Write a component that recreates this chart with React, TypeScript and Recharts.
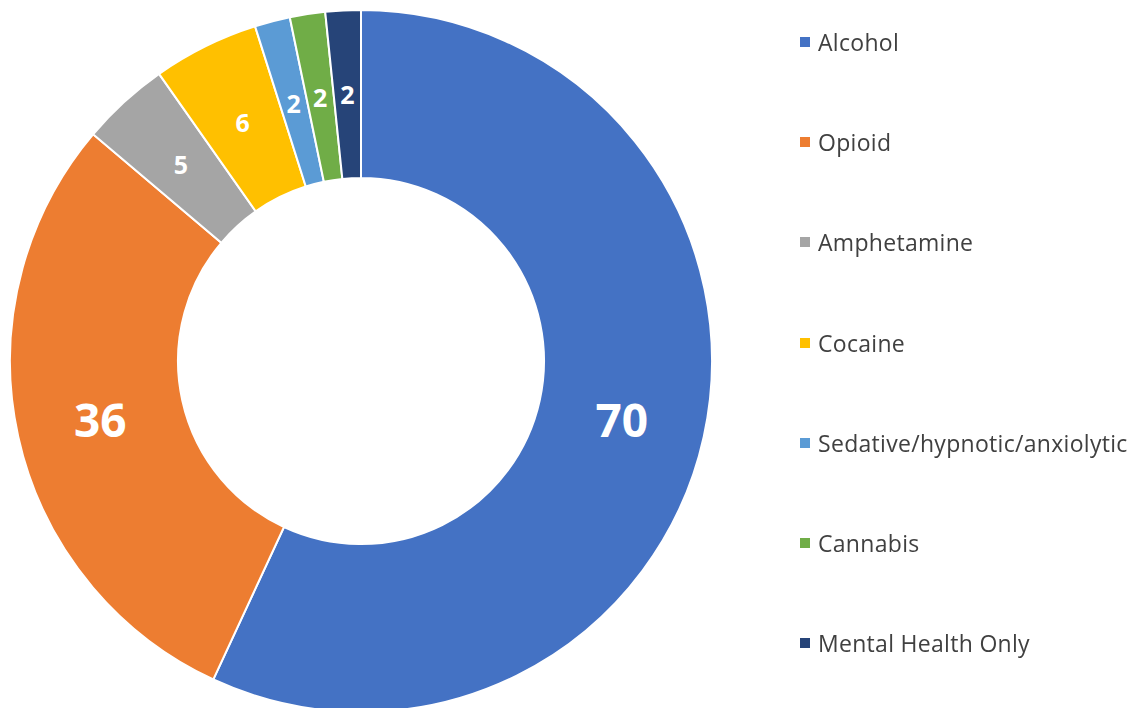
import { PieChart, Pie, Cell, Legend } from "recharts";

const categories = ["Alcohol", "Opioid", "Amphetamine", "Cocaine", "Sedative/hypnotic/anxiolytic", "Cannabis", "Mental Health Only"];
const counts = [70, 36, 5, 6, 2, 2, 2];
const colors = ["#4472C4", "#ED7D31", "#A5A5A5", "#FFC000", "#5B9BD5", "#70AD47", "#264478"];

const data = categories.map((name, i) => ({ name, value: counts[i] }));

const RADIAN = Math.PI / 180;

// label in the middle of the ring, big font for the large slices
const renderLabel = (props: any) => {
  const { cx, cy, midAngle, innerRadius, outerRadius, value } = props;
  const r = (innerRadius + outerRadius) / 2;
  const x = cx + r * Math.cos(-midAngle * RADIAN);
  const y = cy + r * Math.sin(-midAngle * RADIAN);
  return (
    <text
      x={x}
      y={y}
      fill="#fff"
      textAnchor="middle"
      dominantBaseline="central"
      fontSize={value >= 30 ? 46 : 25}
      fontWeight={700}
      fontFamily="'Open Sans', sans-serif"
    >
      {value}
    </text>
  );
};

const renderLegend = () => (
  <div style={{ fontFamily: "'Open Sans', sans-serif", fontSize: 23, letterSpacing: 0.3, color: "#404040" }}>
    {categories.map((name, i) => (
      <div key={name} style={{ height: 40, marginBottom: 60.2, display: "flex", alignItems: "center" }}>
        <span style={{ width: 10, height: 10, background: colors[i], marginRight: 8, display: "inline-block" }} />
        <span>{name}</span>
      </div>
    ))}
  </div>
);

export default function App() {
  return (
    <div style={{ position: "fixed", left: 0, top: 0, width: 1138, height: 708, background: "#fff" }}>
      <PieChart width={1138} height={708} margin={{ top: 0, right: 0, bottom: 0, left: 0 }}>
        <Pie
          data={data}
          dataKey="value"
          nameKey="name"
          cx={361}
          cy={361}
          innerRadius={183}
          outerRadius={351}
          startAngle={90}
          endAngle={-270}
          stroke="#fff"
          strokeWidth={2}
          label={renderLabel}
          labelLine={false}
          isAnimationActive={false}
        >
          {data.map((d, i) => (
            <Cell key={d.name} fill={colors[i]} />
          ))}
        </Pie>
        <Legend content={renderLegend} wrapperStyle={{ left: 800, top: 22, width: 338 }} />
      </PieChart>
    </div>
  );
}
